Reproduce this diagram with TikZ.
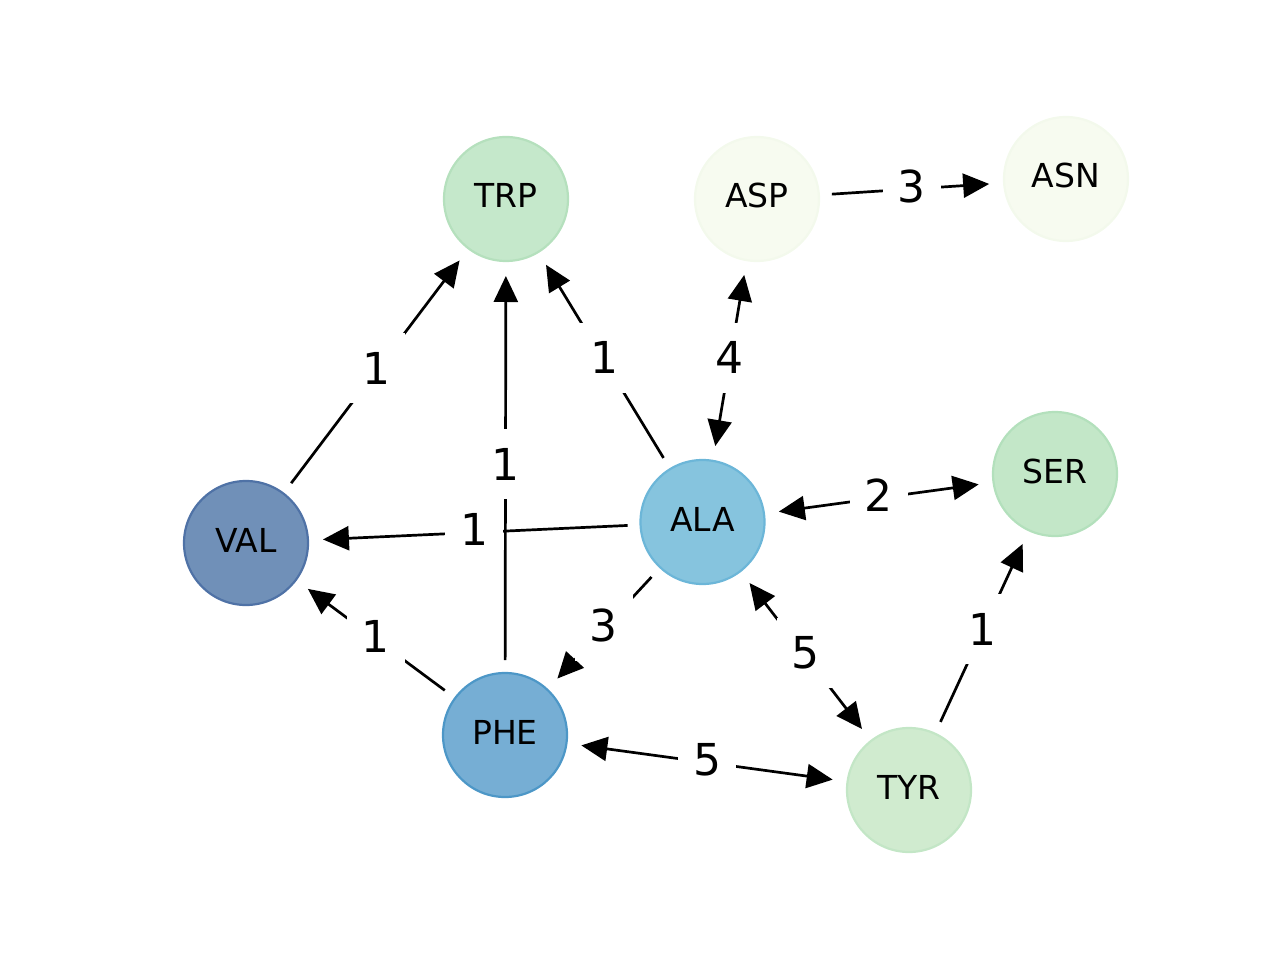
\documentclass[tikz,border=0pt]{standalone}
\usepackage{fontspec}
\setmainfont{DejaVu Sans}
\usetikzlibrary{arrows.meta}
\definecolor{valF}{HTML}{7090B8}\definecolor{valD}{HTML}{4F72A6}
\definecolor{alaF}{HTML}{86C4DE}\definecolor{alaD}{HTML}{6CB6D8}
\definecolor{pheF}{HTML}{76AED4}\definecolor{pheD}{HTML}{4D97C7}
\definecolor{trpF}{HTML}{C5E8CB}\definecolor{trpD}{HTML}{B5E0BD}
\definecolor{aspF}{HTML}{F7FBF0}\definecolor{aspD}{HTML}{F3F9EC}
\definecolor{serF}{HTML}{C3E7C8}\definecolor{serD}{HTML}{B3E0BC}
\definecolor{tyrF}{HTML}{D0EBCF}\definecolor{tyrD}{HTML}{C3E6C6}
\begin{document}
\begin{tikzpicture}[x=1pt,y=-1pt,
 nd/.style={circle,minimum size=124pt,inner sep=0pt,outer sep=0pt,line width=2.2pt,text height=18pt,text depth=0pt,font=\fontsize{33}{40}\selectfont},
 edge/.style={line width=2.7pt,-{Triangle[length=26pt,width=24pt]},shorten >=15pt,shorten <=13pt},
 bi/.style={line width=2.7pt,{Triangle[length=26pt,width=24pt]}-{Triangle[length=26pt,width=24pt]},shorten >=15pt,shorten <=15pt},
 lbl/.style={fill=white,font=\fontsize{44}{50}\selectfont,inner xsep=15pt,inner ysep=0pt,minimum height=70pt,yshift=3pt}]
\useasboundingbox (0,0) rectangle (1280,960);
\node[nd,fill=trpF,draw=trpD] (TRP) at (506,199) {TRP};
\node[nd,fill=aspF,draw=aspD] (ASP) at (757,199) {ASP};
\node[nd,fill=aspF,draw=aspD] (ASN) at (1066,179) {ASN};
\node[nd,fill=valF,draw=valD] (VAL) at (246,543) {VAL};
\node[nd,fill=alaF,draw=alaD] (ALA) at (702.5,522) {ALA};
\node[nd,fill=serF,draw=serD] (SER) at (1055,474) {SER};
\node[nd,fill=pheF,draw=pheD] (PHE) at (505,735) {PHE};
\node[nd,fill=tyrF,draw=tyrD] (TYR) at (909,790) {TYR};
% edges
\draw[edge] (VAL) -- (TRP);
\draw[edge] (PHE) -- (TRP);
\draw[edge] (ALA) -- (TRP);
\draw[bi] (ALA) -- (ASP);
\draw[edge] (ASP) -- (ASN);
\draw[edge] (ALA) -- (VAL);
\draw[bi] (ALA) -- (SER);
\draw[edge] (PHE) -- (VAL);
\draw[edge] (ALA) -- (PHE);
\draw[bi] (ALA) -- (TYR);
\draw[bi] (PHE) -- (TYR);
\draw[edge] (TYR) -- (SER);
% labels
\path (VAL) -- (TRP) node[lbl,midway] (l1) {1};
\path (PHE) -- (TRP) node[lbl,midway] (l2) {1};
\path (ALA) -- (TRP) node[lbl,midway] (l3) {1};
\path (ALA) -- (ASP) node[lbl,midway] (l4) {4};
\path (ASP) -- (ASN) node[lbl,midway] (l5) {3};
\path (ALA) -- (VAL) node[lbl,midway] (l6) {1};
\path (ALA) -- (SER) node[lbl,midway] (l7) {2};
\path (PHE) -- (VAL) node[lbl,midway] (l8) {1};
\path (ALA) -- (PHE) node[lbl,midway] (l9) {3};
\path (ALA) -- (TYR) node[lbl,midway] (l10) {5};
\path (PHE) -- (TYR) node[lbl,midway] (l11) {5};
\path (TYR) -- (SER) node[lbl,midway] (l12) {1};
\end{tikzpicture}
\end{document}
